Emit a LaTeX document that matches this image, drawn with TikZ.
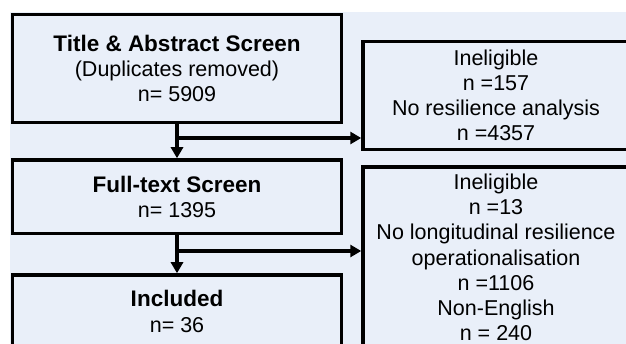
\documentclass[tikz,border=0pt]{standalone}
\usepackage{fontspec}
\setmainfont{Liberation Sans}
\usetikzlibrary{arrows.meta}
\definecolor{bgblue}{RGB}{233,239,249}
\newcommand{\headtxt}[1]{{\fontsize{22.5}{25.2}\selectfont\bfseries #1}}
\begin{document}
\begin{tikzpicture}[x=1pt,y=-1pt,
  box/.style={draw=black,line width=3.5pt,align=center,inner sep=0pt,
    font=\fontsize{21.5}{25.2}\selectfont},
  arr/.style={draw=black,line width=3.5pt,-{Triangle[length=11pt,width=12pt]}}]
\useasboundingbox (0,0) rectangle (626,344);
\clip (0,0) rectangle (626,344);
\fill[bgblue] (10,12) rectangle (640,360);
\node[box,minimum width=329pt,minimum height=108pt] (b1) at (177,68.5)
  {\headtxt{Title \& Abstract Screen}\\(Duplicates removed)\\n= 5909};
\node[box,minimum width=266pt,minimum height=108pt] (r1) at (496,95.5)
  {Ineligible\\n =157\\No resilience analysis\\n =4357};
\node[box,minimum width=329pt,minimum height=73.5pt] (b2) at (177,196.75)
  {\headtxt{Full-text Screen}\\n= 1395};
\node[box,minimum width=266pt,minimum height=181pt] (r2) at (496,257.5)
  {Ineligible\\n =13\\No longitudinal resilience\\operationalisation\\n =1106\\Non-English\\n = 240};
\node[box,minimum width=329pt,minimum height=73pt] (b3) at (177,311.5)
  {\headtxt{Included}\\n= 36};
\coordinate (j1) at (177,138);
\coordinate (j2) at (177,251);
\draw[arr] (b1.south) -- (b2.north);
\draw[arr] (j1) -- (j1 -| r1.west);
\draw[arr] (b2.south) -- (b3.north);
\draw[arr] (j2) -- (j2 -| r2.west);
\end{tikzpicture}
\end{document}
